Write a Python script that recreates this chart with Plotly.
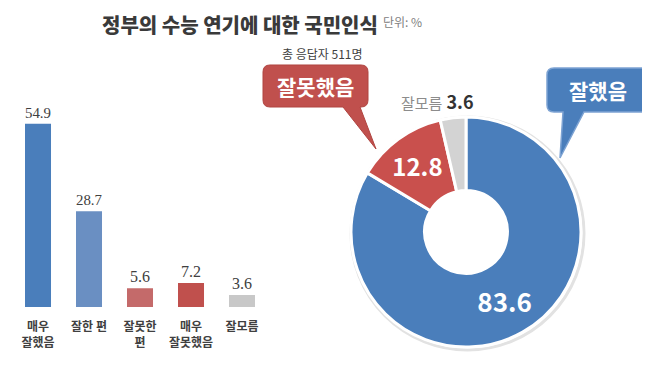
import plotly.graph_objects as go

# The page body has an 8px margin; size the figure so it fits the 650x368 window
OFF = 8
FW, FH = 650 - OFF, 368 - OFF

# ---- data ----
bar_categories = ["매우<br>잘했음", "잘한 편", "잘못한<br>편", "매우<br>잘못했음", "잘모름"]
bar_values = [54.9, 28.7, 5.6, 7.2, 3.6]
bar_colors = ["#4A7EBB", "#6A8FC2", "#C46A6A", "#C0504D", "#C8C8C8"]

donut_labels = ["잘했음", "잘못했음", "잘모름"]
donut_values = [83.6, 12.8, 3.6]
donut_colors = ["#4A7EBB", "#C9504D", "#D3D3D3"]
donut_text = ["83.6", "12.8", ""]

title_text = "정부의 수능 연기에 대한 국민인식"
unit_text = "단위: %"
respondents_text = "총 응답자 511명"

KR = "Noto Sans CJK KR"


def PX(x):
    return (x - OFF) / FW


def PY(y):
    return 1 - (y - OFF) / FH


def callout_path(x0, y0, x1, y1, r, tail):
    bl, br, tx, ty = tail

    def f(x, y):
        return f"{PX(x):.5f},{PY(y):.5f}"
    d = f"M {f(x0 + r, y0)} L {f(x1 - r, y0)} Q {f(x1, y0)} {f(x1, y0 + r)} "
    d += f"L {f(x1, y1 - r)} Q {f(x1, y1)} {f(x1 - r, y1)} "
    d += f"L {f(br, y1)} L {f(tx, ty)} L {f(bl, y1)} "
    d += f"L {f(x0 + r, y1)} Q {f(x0, y1)} {f(x0, y1 - r)} "
    d += f"L {f(x0, y0 + r)} Q {f(x0, y0)} {f(x0 + r, y0)} Z"
    return d


fig = go.Figure()

fig.add_trace(go.Bar(
    x=bar_categories, y=bar_values,
    marker=dict(color=bar_colors, line=dict(width=0)),
    text=[f"{v:.1f}" for v in bar_values],
    textposition="outside",
    textfont=dict(family="Liberation Serif", size=16, color="#404040"),
    cliponaxis=False,
    xaxis="x", yaxis="y",
    hoverinfo="skip",
))

# donut geometry (target pixels in the 650x368 window)
cx, cy, R = 466, 232, 115

fig.add_trace(go.Pie(
    labels=donut_labels, values=donut_values,
    text=donut_text, textinfo="text",
    textposition="inside", insidetextorientation="horizontal",
    textfont=dict(family=KR, size=[26, 24, 10], color="white", weight="bold"),
    marker=dict(colors=donut_colors, line=dict(color="white", width=3)),
    hole=0.36, sort=False, direction="clockwise", rotation=0,
    domain=dict(x=[PX(cx - R), PX(cx + R)], y=[PY(cy + R), PY(cy - R)]),
    showlegend=False, hoverinfo="skip",
))

shapes = [
    # soft shadow ring around the donut
    dict(type="circle", xref="paper", yref="paper", layer="below",
         x0=PX(cx - R), x1=PX(cx + R + 3), y0=PY(cy + R + 3), y1=PY(cy - R),
         fillcolor="rgba(0,0,0,0)", line=dict(color="#E2E2E2", width=3)),
    dict(type="path", xref="paper", yref="paper",
         path=callout_path(263, 65, 368, 107, 7, (343, 360, 376, 149)),
         fillcolor="#C0504D", line=dict(color="#B04440", width=1)),
    dict(type="path", xref="paper", yref="paper",
         path=callout_path(547, 68, 648, 112, 7, (563, 584, 560, 158)),
         fillcolor="#4A7EBB", line=dict(color="#7DA3D3", width=1.5)),
]

annotations = [
    dict(text=title_text, x=PX(240), y=1, xref="paper", yref="paper",
         showarrow=False, xanchor="center", yanchor="top",
         font=dict(family=KR, size=20, color="#3A3A3A", weight=900)),
    dict(text=unit_text, x=PX(381), y=PY(22), xref="paper", yref="paper",
         showarrow=False, xanchor="left", yanchor="middle",
         font=dict(family=KR, size=12, color="#808080")),
    dict(text=respondents_text, x=PX(322), y=PY(53), xref="paper", yref="paper",
         showarrow=False, xanchor="center", yanchor="middle",
         font=dict(family=KR, size=12, color="#404040")),
    dict(text="잘못했음", x=PX(315.5), y=PY(86), xref="paper", yref="paper",
         showarrow=False, xanchor="center", yanchor="middle",
         font=dict(family=KR, size=21, color="white", weight="bold")),
    dict(text="잘했음", x=PX(597.5), y=PY(90), xref="paper", yref="paper",
         showarrow=False, xanchor="center", yanchor="middle",
         font=dict(family=KR, size=21, color="white", weight="bold")),
    dict(text="<span style='color:#8C8C8C;font-size:15px'>잘모름</span> <b>3.6</b>",
         x=PX(437), y=PY(101), xref="paper", yref="paper",
         showarrow=False, xanchor="center", yanchor="middle",
         font=dict(family=KR, size=18, color="#333333")),
]

fig.update_layout(
    width=FW, height=FH,
    margin=dict(l=0, r=0, t=0, b=0),
    paper_bgcolor="white", plot_bgcolor="white",
    showlegend=False,
    bargap=0.49,
    xaxis=dict(domain=[PX(12.5), PX(267.5)], showgrid=False, zeroline=False,
               showline=False, ticks="", ticklabelstandoff=11,
               tickfont=dict(family=KR, size=12, color="#404040", weight="bold")),
    yaxis=dict(domain=[PY(307), PY(100)], range=[0, 62], showgrid=False,
               zeroline=False, showline=False, showticklabels=False),
    shapes=shapes,
    annotations=annotations,
)

fig.write_html("out.html")
